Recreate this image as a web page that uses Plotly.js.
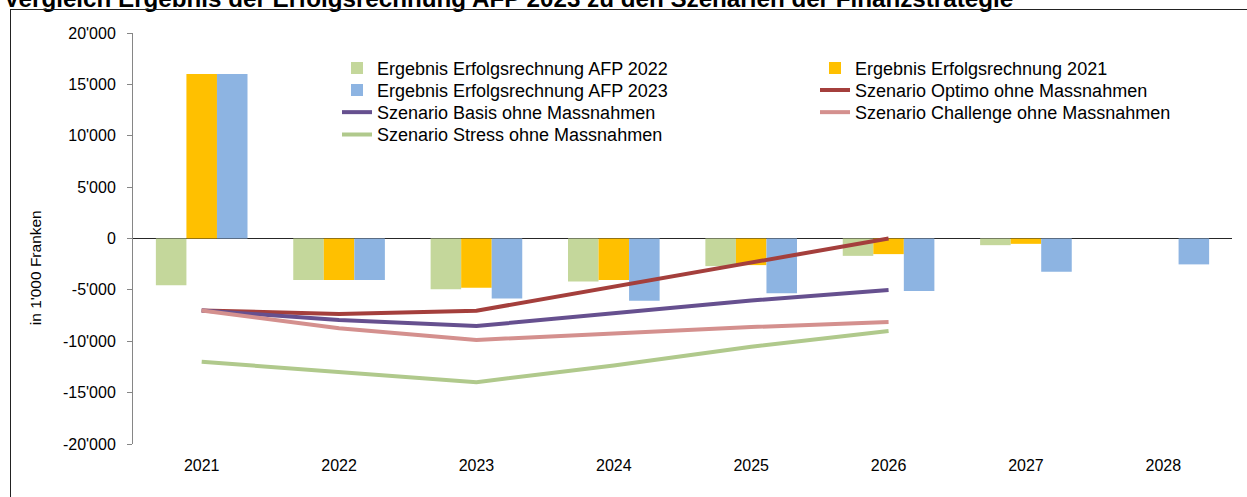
<!DOCTYPE html>
<html>
<head>
<meta charset="utf-8">
<script src="https://cdn.plot.ly/plotly-3.0.1.min.js"></script>
<style>
  html, body { margin: 0; padding: 0; background: #fff; overflow: hidden; }
  #wrap { position: relative; width: 1247px; height: 497px; }
  #chart { width: 1247px; height: 497px; }
  #frame { position: absolute; left: 10px; top: 9px; width: 1300px; height: 600px;
           border: 1.5px solid #222; pointer-events: none; box-sizing: border-box; }
</style>
</head>
<body>
<div id="wrap">
  <div id="chart"></div>
  <div id="frame"></div>
</div>
<script>
// ---- data ----
const categories = ['2021', '2022', '2023', '2024', '2025', '2026', '2027', '2028'];
const lineYears = ['2021', '2022', '2023', '2024', '2025', '2026'];

const afp2022 = [-4550, -4050, -4950, -4180, -2690, -1690, -650, null];
const erg2021 = [16000, -4050, -4800, -4050, -2590, -1520, -520, null];
const afp2023 = [16000, -4050, -5830, -6060, -5340, -5120, -3240, -2520];

const optimo = [-7000, -7350, -7030, -4700, -2350, 0];
const basis = [-7000, -7930, -8520, -7230, -6030, -5020];
const challenge = [-7000, -8740, -9870, -9230, -8620, -8130];
const stress = [-12000, -12950, -13980, -12350, -10540, -9000];

const yTickVals = [-20000, -15000, -10000, -5000, 0, 5000, 10000, 15000, 20000];
const yTickText = ["-20'000", "-15'000", "-10'000", "-5'000", "0", "5'000", "10'000", "15'000", "20'000"];

const names = [
  'Ergebnis Erfolgsrechnung AFP 2022',
  'Ergebnis Erfolgsrechnung 2021',
  'Ergebnis Erfolgsrechnung AFP 2023',
  'Szenario Optimo ohne Massnahmen',
  'Szenario Basis ohne Massnahmen',
  'Szenario Challenge ohne Massnahmen',
  'Szenario Stress ohne Massnahmen'
];
const titleText = 'Vergleich Ergebnis der Erfolgsrechnung AFP 2023 zu den Szenarien der Finanzstrategie';
const yTitle = "in 1'000 Franken";

// ---- traces ----
const FONT = '"Liberation Sans", Arial, sans-serif';
function bar(name, y, color, lg) {
  return { type: 'bar', name: name, x: categories, y: y, marker: { color: color }, legend: lg };
}
function line(name, y, color, lg) {
  return { type: 'scatter', mode: 'lines', name: name, x: lineYears, y: y,
           line: { color: color, width: 4 }, legend: lg };
}
const traces = [
  bar(names[0], afp2022, '#C4D79B', 'legend'),
  bar(names[1], erg2021, '#FFC000', 'legend2'),
  bar(names[2], afp2023, '#8DB4E2', 'legend3'),
  line(names[3], optimo, '#A43F3C', 'legend4'),
  line(names[4], basis, '#66508F', 'legend5'),
  line(names[5], challenge, '#D4908E', 'legend6'),
  line(names[6], stress, '#B0C98C', 'legend7')
];

// legend grid (pixel layout of the legend block)
const plotL = 133, plotW = 1099, plotB = 444.3, plotH = 411.3;
const legCols = [337, 815];
const legRows = [68.3, 90.3, 112.5, 134.8];
function legendAt(col, row) {
  return { orientation: 'v', xref: 'paper', yref: 'paper',
           x: (legCols[col] - plotL) / plotW, xanchor: 'left',
           y: (plotB - legRows[row]) / plotH, yanchor: 'middle',
           font: { family: FONT, size: 18, color: '#000' }, bgcolor: 'rgba(0,0,0,0)', borderwidth: 0 };
}

const layout = {
  width: 1247, height: 497,
  margin: { l: 133, r: 15, t: 32.5, b: 52.7, pad: 0 },
  paper_bgcolor: '#fff', plot_bgcolor: '#fff',
  font: { family: FONT, size: 16, color: '#000' },
  barmode: 'group', bargap: 0.333, bargroupgap: 0,
  title: { text: '<b>' + titleText + '</b>', font: { family: FONT, size: 24.2, color: '#000' },
           x: 0.003, xanchor: 'left', xref: 'container', y: 0.986, yanchor: 'bottom', yref: 'container',
           pad: { t: 0, b: 0, l: 0, r: 0 } },
  showlegend: true,
  legend: legendAt(0, 0),
  legend2: legendAt(1, 0),
  legend3: legendAt(0, 1),
  legend4: legendAt(1, 1),
  legend5: legendAt(0, 2),
  legend6: legendAt(1, 2),
  legend7: legendAt(0, 3),
  xaxis: { type: 'category', categoryorder: 'array', categoryarray: categories,
           range: [-0.5, 7.5], showline: false, showgrid: false, zeroline: false,
           ticks: '', ticklabelstandoff: 10, tickfont: { family: FONT, size: 16, color: '#000' } },
  yaxis: { range: [-20000, 20000], tickvals: yTickVals, ticktext: yTickText,
           showline: true, linecolor: '#868686', linewidth: 1,
           ticks: 'outside', ticklen: 5, tickcolor: '#868686', tickwidth: 1,
           ticklabelstandoff: 8,
           showgrid: false, zeroline: true, zerolinecolor: '#262626', zerolinewidth: 1.5,
           tickfont: { family: FONT, size: 16, color: '#000' } },
  annotations: [
    { text: yTitle, textangle: -90, xref: 'paper', yref: 'paper', x: -0.0892, y: 0.43,
      xanchor: 'center', yanchor: 'middle', showarrow: false,
      font: { family: FONT, size: 15.5, color: '#000' } }
  ]
};

Plotly.newPlot('chart', traces, layout, { staticPlot: true, displayModeBar: false });
</script>
</body>
</html>
